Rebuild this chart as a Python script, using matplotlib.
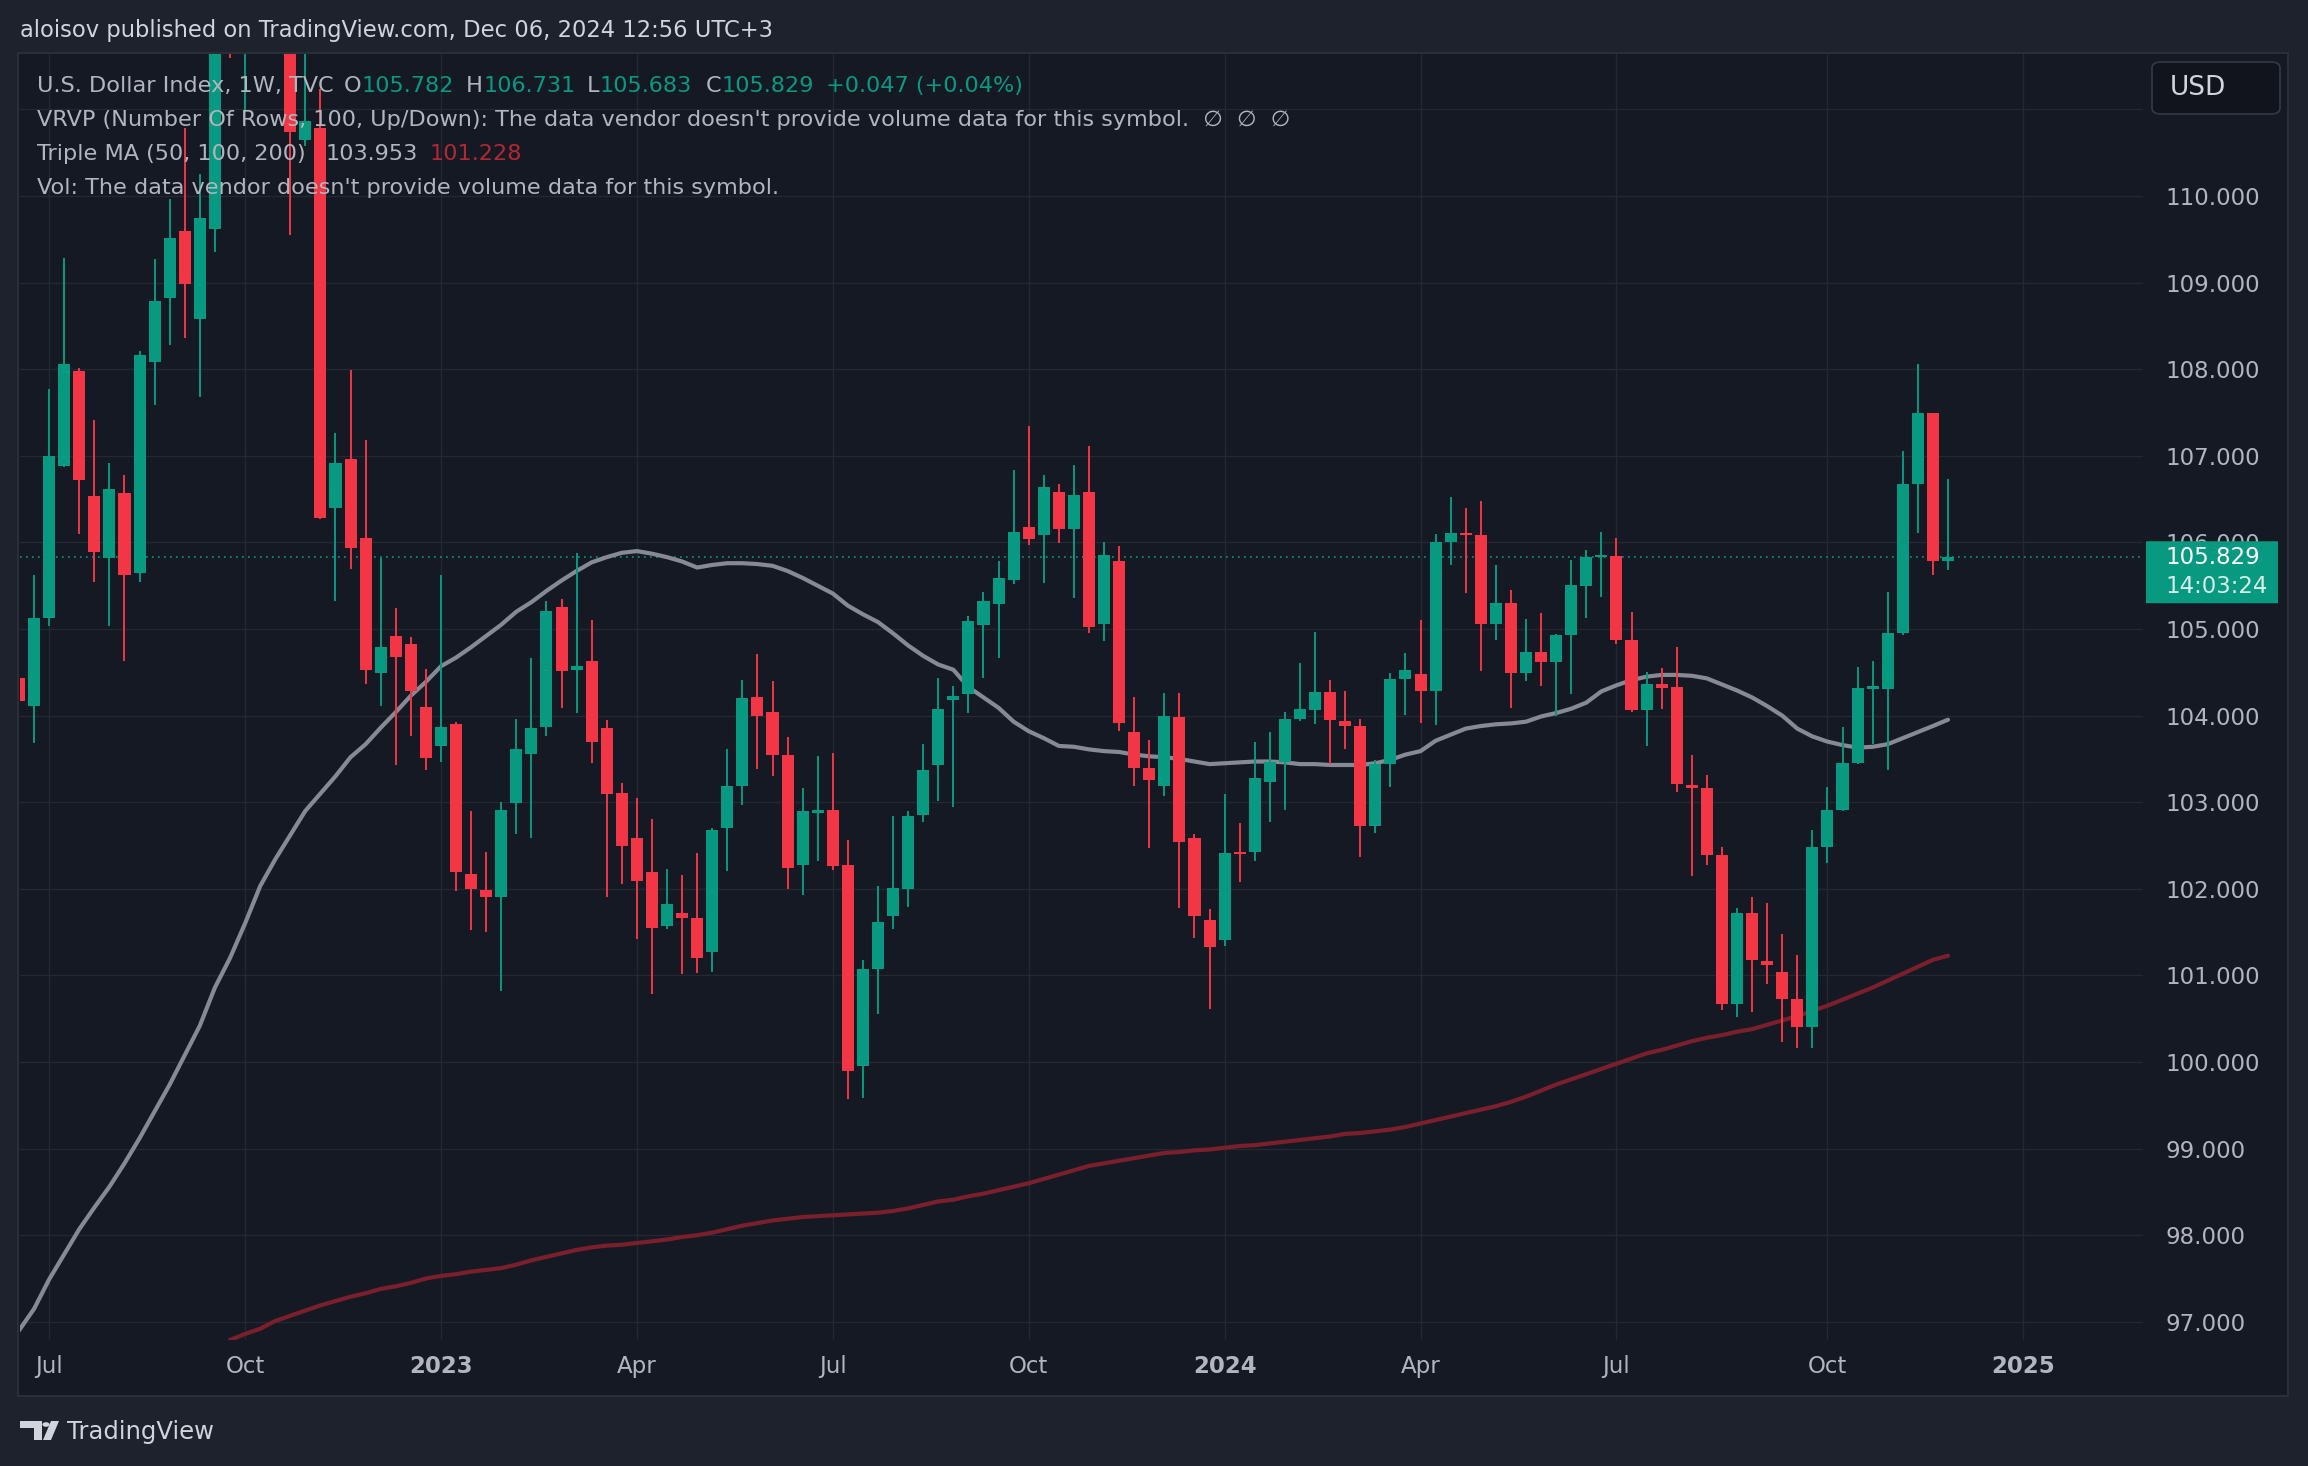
import numpy as np
import pandas as pd
import matplotlib
matplotlib.use('Agg')
import matplotlib.pyplot as plt
from matplotlib.patches import Rectangle, FancyBboxPatch, Polygon, Circle
from matplotlib.transforms import blended_transform_factory

# weekly candles, U.S. Dollar Index (TVC), first bar = week of 2022-06-20
first_week = '2022-06-20'
open_ = [104.43, 104.11, 105.13, 106.88, 107.98, 106.54, 105.82, 106.57, 105.65, 108.08,
         108.82, 109.60, 108.58, 109.62, 113.20, 112.10, 112.80, 113.30, 111.99, 110.65,
         110.78, 106.40, 106.96, 106.05, 104.49, 104.92, 104.83, 104.10, 103.65, 103.90,
         102.17, 101.99, 101.91, 102.99, 103.56, 103.87, 105.25, 104.53, 104.63, 103.86,
         103.11, 102.59, 102.19, 101.57, 101.72, 101.66, 101.27, 102.70, 103.19, 104.22,
         104.04, 103.54, 102.28, 102.87, 102.91, 102.28, 99.95, 101.07, 101.69, 102.00,
         102.85, 103.43, 104.18, 104.25, 105.05, 105.29, 105.57, 106.18, 106.08, 106.58,
         106.16, 106.58, 105.06, 105.79, 103.81, 103.40, 103.19, 103.98, 102.59, 101.64,
         101.41, 102.43, 102.43, 103.23, 103.46, 103.96, 104.07, 104.27, 103.94, 103.88,
         102.73, 103.44, 104.42, 104.48, 104.28, 106.01, 106.11, 106.08, 105.06, 105.30,
         104.49, 104.74, 104.62, 104.93, 105.50, 105.83, 105.84, 104.87, 104.06, 104.36,
         104.33, 103.20, 103.16, 102.39, 100.67, 101.72, 101.17, 101.04, 100.73, 100.41,
         102.48, 102.91, 103.45, 104.31, 104.31, 104.95, 106.67, 107.49, 105.782]
high = [104.60, 105.62, 107.77, 109.29, 108.01, 107.41, 106.92, 106.78, 108.21, 109.27,
        109.97, 110.78, 110.25, 113.33, 114.78, 112.80, 113.90, 113.45, 112.20, 113.15,
        111.24, 107.26, 107.99, 107.18, 105.82, 105.24, 104.91, 104.54, 105.62, 103.93,
        102.90, 102.43, 103.00, 103.96, 104.66, 105.32, 105.35, 105.88, 105.10, 103.95,
        103.22, 103.05, 102.81, 102.23, 102.16, 102.41, 102.70, 103.62, 104.41, 104.71,
        104.40, 103.75, 103.16, 103.53, 103.57, 102.56, 101.18, 102.03, 102.84, 102.90,
        103.67, 104.44, 104.34, 105.15, 105.43, 105.78, 106.84, 107.35, 106.78, 106.67,
        106.89, 107.11, 106.00, 105.96, 104.21, 103.72, 104.26, 104.26, 102.63, 101.77,
        103.09, 102.76, 103.69, 103.81, 104.04, 104.61, 104.97, 104.41, 104.28, 103.96,
        103.49, 104.49, 104.72, 105.10, 106.10, 106.52, 106.40, 106.48, 105.74, 105.45,
        105.12, 105.18, 104.94, 105.80, 105.91, 106.12, 106.05, 105.20, 104.50, 104.55,
        104.79, 103.54, 103.31, 102.48, 101.78, 101.91, 101.84, 101.48, 101.23, 102.68,
        103.18, 103.87, 104.56, 104.63, 105.43, 107.06, 108.06, 107.50, 106.731]
low = [103.86, 103.68, 105.04, 106.87, 106.10, 105.54, 105.04, 104.63, 105.54, 107.59,
       108.28, 108.36, 107.68, 109.35, 111.59, 110.97, 112.20, 111.75, 109.55, 110.58,
       106.27, 105.32, 105.69, 104.37, 104.11, 103.43, 103.76, 103.37, 103.46, 101.98,
       101.53, 101.50, 100.82, 102.63, 102.59, 103.76, 104.09, 104.03, 103.45, 101.91,
       102.06, 101.42, 100.79, 101.54, 101.02, 101.03, 101.04, 102.20, 102.97, 103.38,
       103.30, 102.00, 101.93, 102.32, 102.22, 99.57, 99.59, 100.56, 101.54, 101.79,
       102.77, 103.01, 102.94, 104.03, 104.43, 104.67, 105.52, 105.97, 105.53, 105.99,
       105.36, 104.95, 104.86, 103.82, 103.19, 102.47, 103.07, 101.78, 101.43, 100.61,
       101.34, 102.08, 102.32, 102.77, 102.91, 103.94, 103.90, 103.44, 103.61, 102.37,
       102.64, 103.17, 104.01, 103.92, 103.89, 105.74, 105.42, 104.52, 104.87, 104.09,
       104.40, 104.34, 104.00, 104.25, 105.13, 105.37, 104.83, 104.04, 103.65, 104.08,
       103.12, 102.15, 102.27, 100.60, 100.52, 100.58, 100.90, 100.23, 100.16, 100.16,
       102.30, 102.90, 103.44, 103.67, 103.37, 104.93, 106.11, 105.62, 105.683]
close = [104.17, 105.13, 107.00, 108.06, 106.72, 105.89, 106.62, 105.62, 108.16, 108.79,
         109.52, 108.98, 109.75, 113.19, 112.12, 112.79, 113.30, 111.99, 110.74, 110.87,
         106.28, 106.92, 105.93, 104.53, 104.79, 104.68, 104.29, 103.51, 103.87, 102.19,
         102.00, 101.91, 102.91, 103.62, 103.86, 105.21, 104.51, 104.57, 103.70, 103.10,
         102.49, 102.09, 101.55, 101.82, 101.66, 101.20, 102.68, 103.19, 104.20, 104.00,
         103.55, 102.24, 102.90, 102.91, 102.26, 99.90, 101.07, 101.62, 102.01, 102.84,
         103.37, 104.08, 104.23, 105.09, 105.32, 105.59, 106.12, 106.04, 106.64, 106.16,
         106.55, 105.02, 105.86, 103.91, 103.39, 103.26, 104.00, 102.54, 101.69, 101.33,
         102.41, 102.40, 103.28, 103.47, 103.96, 104.08, 104.27, 103.95, 103.88, 102.73,
         103.44, 104.42, 104.53, 104.28, 106.00, 106.11, 106.08, 105.06, 105.30, 104.49,
         104.74, 104.62, 104.93, 105.51, 105.83, 105.86, 104.87, 104.06, 104.36, 104.32,
         103.21, 103.16, 102.39, 100.67, 101.72, 101.18, 101.12, 100.73, 100.41, 102.48,
         102.91, 103.45, 104.32, 104.34, 104.95, 106.67, 107.49, 105.782, 105.829]

# Triple MA: 50 (grey) and 200 (dark red)
ma50 = [96.90, 97.15, 97.49, 97.78, 98.07, 98.32, 98.56, 98.83, 99.12, 99.43,
        99.74, 100.08, 100.42, 100.86, 101.20, 101.60, 102.03, 102.34, 102.62, 102.90,
        103.10, 103.30, 103.52, 103.67, 103.86, 104.04, 104.23, 104.39, 104.57, 104.67,
        104.79, 104.92, 105.05, 105.20, 105.31, 105.44, 105.56, 105.67, 105.77, 105.83,
        105.88, 105.90, 105.87, 105.83, 105.78, 105.71, 105.74, 105.76, 105.76, 105.75,
        105.73, 105.67, 105.59, 105.50, 105.41, 105.27, 105.17, 105.08, 104.95, 104.81,
        104.69, 104.59, 104.53, 104.33, 104.21, 104.09, 103.93, 103.82, 103.74, 103.65,
        103.64, 103.61, 103.59, 103.58, 103.55, 103.53, 103.52, 103.50, 103.47, 103.44,
        103.45, 103.46, 103.47, 103.47, 103.46, 103.44, 103.44, 103.43, 103.43, 103.43,
        103.45, 103.49, 103.55, 103.59, 103.71, 103.78, 103.85, 103.88, 103.90, 103.91,
        103.93, 103.99, 104.03, 104.08, 104.15, 104.28, 104.35, 104.41, 104.45, 104.47,
        104.47, 104.46, 104.43, 104.36, 104.29, 104.21, 104.11, 104.00, 103.85, 103.76,
        103.70, 103.66, 103.63, 103.64, 103.67, 103.74, 103.81, 103.88, 103.953]
ma200 = [np.nan] * 14 + [
        96.79, 96.86, 96.92, 97.01, 97.07, 97.13, 97.19, 97.24, 97.29, 97.33,
        97.38, 97.41, 97.45, 97.50, 97.53, 97.55, 97.58, 97.60, 97.62, 97.66,
        97.71, 97.75, 97.79, 97.83, 97.86, 97.88, 97.89, 97.91, 97.93, 97.95,
        97.98, 98.00, 98.03, 98.07, 98.11, 98.14, 98.17, 98.19, 98.21, 98.22,
        98.23, 98.24, 98.25, 98.26, 98.28, 98.31, 98.35, 98.39, 98.41, 98.45,
        98.48, 98.52, 98.56, 98.60, 98.65, 98.70, 98.75, 98.80, 98.83, 98.86,
        98.89, 98.92, 98.95, 98.96, 98.98, 98.99, 99.01, 99.03, 99.04, 99.06,
        99.08, 99.10, 99.12, 99.14, 99.17, 99.18, 99.20, 99.22, 99.25, 99.29,
        99.33, 99.37, 99.41, 99.45, 99.49, 99.54, 99.60, 99.67, 99.74, 99.80,
        99.86, 99.92, 99.98, 100.04, 100.10, 100.14, 100.19, 100.24, 100.28, 100.31,
        100.35, 100.38, 100.43, 100.48, 100.53, 100.59, 100.65, 100.72, 100.79, 100.86,
        100.94, 101.02, 101.10, 101.18, 101.228]

price_ticks = list(range(97, 111))
countdown = '14:03:24'
title = 'aloisov published on TradingView.com, Dec 06, 2024 12:56 UTC+3'

BG = '#1e222d'
PANE = '#151924'
GRID = '#242833'
TXT = '#b2b5be'
GREEN = '#089981'
RED = '#f23645'
MA50_C = '#878a94'
MA200_C = '#7a1f2b'

W, H = 2308, 1466


def fx(x):
    return x / W


def fy(y):
    return 1 - y / H


fig = plt.figure(figsize=(W / 100, H / 100), dpi=100, facecolor=BG)
fig.add_artist(Rectangle((fx(18), fy(1396)), fx(2288) - fx(18), fy(53) - fy(1396),
                         transform=fig.transFigure, facecolor=PANE, edgecolor='#2a2e39',
                         lw=1.5, zorder=-1))

ax = fig.add_axes([fx(20), fy(1340), fx(2143) - fx(20), fy(54) - fy(1340)])
ax.set_facecolor(PANE)
for s in ax.spines.values():
    s.set_visible(False)
ax.set_xlim(0.066, 140.94)
ax.set_ylim(96.79, 111.64)

o = np.array(open_)
h = np.array(high)
l = np.array(low)
c = np.array(close)
idx = np.arange(len(c))

# time axis: first weekly bar of each quarter month
weeks = pd.date_range(first_week, periods=141, freq='W-MON')
tick_pos, tick_lab = [], []
for i, d in enumerate(weeks):
    if d.month in (1, 4, 7, 10) and (i == 0 or weeks[i - 1].month != d.month):
        tick_pos.append(i)
        tick_lab.append(str(d.year) if d.month == 1 else d.strftime('%b'))

for y in range(97, 112):
    ax.axhline(y, color=GRID, lw=1, zorder=0)
for x in tick_pos:
    ax.axvline(x, color=GRID, lw=1, zorder=0)

ax.plot(idx, ma50, color=MA50_C, lw=3.0, zorder=2, solid_capstyle='round')
ax.plot(idx, ma200, color=MA200_C, lw=3.0, zorder=2, solid_capstyle='round')

colors = np.where(c >= o, GREEN, RED)
ax.vlines(idx, l, h, colors=colors, lw=1.4, zorder=3)
ax.bar(idx, np.maximum(np.abs(c - o), 0.015), bottom=np.minimum(o, c), width=0.8,
       color=colors, lw=0, zorder=4)

ax.axhline(c[-1], color=GREEN, lw=1.2, ls=(0, (1, 2.6)), zorder=1)

ax.set_xticks(tick_pos)
ax.set_xticklabels(tick_lab)
for t in ax.get_xticklabels():
    if t.get_text().isdigit():
        t.set_fontweight('bold')
ax.tick_params(axis='x', length=0, pad=11, labelsize=16.5, labelcolor=TXT)
ax.yaxis.tick_right()
ax.set_yticks(price_ticks)
ax.set_yticklabels([f'{v:.3f}' for v in price_ticks])
ax.tick_params(axis='y', length=0, pad=16, labelsize=16.5, labelcolor=TXT)

# last price marker on the price scale (covers the 106.000 label as in TradingView)
tr = blended_transform_factory(fig.transFigure, ax.transData)
px_per_unit = (1340 - 54) / (111.64 - 96.79)
fig.add_artist(FancyBboxPatch((fx(2146), c[-1] - 46 / px_per_unit), fx(2278) - fx(2146),
                              62 / px_per_unit, boxstyle='round,pad=0,rounding_size=0.002',
                              transform=tr, facecolor=GREEN, edgecolor='none', zorder=5))
fig.text(fx(2165), c[-1], f'{c[-1]:.3f}', transform=tr, color='white', fontsize=16.5,
         va='center', zorder=6)
fig.text(fx(2165), c[-1] - 29 / px_per_unit, countdown, transform=tr, color='#d6efea',
         fontsize=16.5, va='center', zorder=6)

# currency button
fig.add_artist(FancyBboxPatch((fx(2152), fy(114)), fx(2280) - fx(2152), fy(62) - fy(114),
                              boxstyle='round,pad=0,rounding_size=0.004',
                              transform=fig.transFigure, facecolor='#11141c',
                              edgecolor='#363a45', lw=1.2, zorder=5))
fig.text(fx(2170), fy(88), 'USD', color='#d1d4dc', fontsize=19, va='center', zorder=6)

# header and legend
fig.text(fx(20), fy(31), title, color='#d1d4dc', fontsize=16.3, va='center')

LS = 16.1
y1, y2, y3, y4 = fy(86), fy(120), fy(154), fy(188)
fig.text(fx(37), y1, 'U.S. Dollar Index, 1W, TVC', color=TXT, fontsize=LS, va='center')
chg = c[-1] - c[-2]
values = [(362, 'O', f'{o[-1]:.3f}'), (484, 'H', f'{h[-1]:.3f}'),
          (600, 'L', f'{l[-1]:.3f}'), (722, 'C', f'{c[-1]:.3f}')]
for x, key, val in values:
    fig.text(fx(x - 1), y1, key, color=TXT, fontsize=LS, va='center', ha='right')
    fig.text(fx(x), y1, val, color=GREEN, fontsize=LS, va='center')
fig.text(fx(826), y1, f'{chg:+.3f} ({chg / c[-2] * 100:+.2f}%)', color=GREEN,
         fontsize=LS, va='center')
fig.text(fx(37), y2, "VRVP (Number Of Rows, 100, Up/Down): The data vendor doesn't provide "
         "volume data for this symbol.  \u2205  \u2205  \u2205", color=TXT, fontsize=LS,
         va='center')
fig.text(fx(37), y3, 'Triple MA (50, 100, 200)', color=TXT, fontsize=LS, va='center')
fig.text(fx(326), y3, f'{ma50[-1]:.3f}', color=TXT, fontsize=LS, va='center')
fig.text(fx(430), y3, f'{ma200[-1]:.3f}', color='#b22833', fontsize=LS, va='center')
fig.text(fx(37), y4, "Vol: The data vendor doesn't provide volume data for this symbol.",
         color=TXT, fontsize=LS, va='center')

# TradingView logo
LOGO = '#d1d4dc'
for pts in ([(20, 1421), (42, 1421), (42, 1440), (34, 1440), (34, 1428), (20, 1428)],
            [(51, 1421), (59, 1421), (51, 1440), (43, 1440)]):
    fig.add_artist(Polygon([(fx(x), fy(y)) for x, y in pts], closed=True,
                           transform=fig.transFigure, facecolor=LOGO, edgecolor='none'))
fig.add_artist(Circle((fx(46), fy(1424.5)), 3.6 / W, transform=fig.transFigure,
                      facecolor=LOGO, edgecolor='none'))
fig.text(fx(67), fy(1432), 'TradingView', color=LOGO, fontsize=17.5, va='center')

fig.savefig('out.png', dpi=100, facecolor=BG)
